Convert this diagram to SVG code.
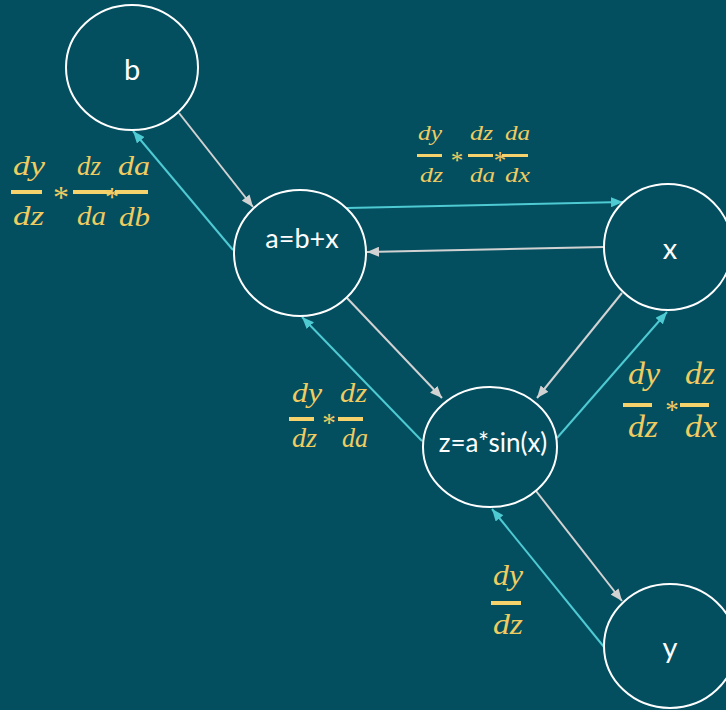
<svg xmlns="http://www.w3.org/2000/svg" width="726" height="710" viewBox="0 0 726 710">
<style>
.node{fill:none;stroke:#ffffff;stroke-width:2}
.lbl{font-family:Lato,"Open Sans",sans-serif;fill:#ffffff;text-anchor:middle}
.fwd{stroke:#d2d2d2;stroke-width:2;fill:none}
.bwd{stroke:#4ecad2;stroke-width:2;fill:none}
.m{font-family:"Liberation Serif",serif;font-style:italic;fill:#f0cc60}
.bar{fill:#f5d26c}
.st{font-family:"Liberation Serif",serif;fill:#f0cc60;text-anchor:middle}
</style>
<defs>
<marker id="ag" viewBox="0 0 12 10" refX="12" refY="5" markerWidth="12" markerHeight="10" markerUnits="userSpaceOnUse" orient="auto"><path d="M0,0 L12,5 L0,10 z" fill="#d2d2d2"/></marker>
<marker id="ac" viewBox="0 0 12 10" refX="12" refY="5" markerWidth="12" markerHeight="10" markerUnits="userSpaceOnUse" orient="auto"><path d="M0,0 L12,5 L0,10 z" fill="#4ecad2"/></marker>
</defs>
<rect width="726" height="710" fill="#034f60"/>
<g id="connectors">
<line class="fwd" x1="179" y1="113" x2="253" y2="207" marker-end="url(#ag)"/>
<line class="bwd" x1="233" y1="250" x2="133" y2="131" marker-end="url(#ac)"/>
<line class="bwd" x1="347" y1="208" x2="623" y2="202" marker-end="url(#ac)"/>
<line class="fwd" x1="604" y1="247" x2="367" y2="252" marker-end="url(#ag)"/>
<line class="fwd" x1="347" y1="298" x2="442" y2="398" marker-end="url(#ag)"/>
<line class="bwd" x1="422" y1="441" x2="302" y2="317" marker-end="url(#ac)"/>
<line class="fwd" x1="622" y1="293" x2="537" y2="398" marker-end="url(#ag)"/>
<line class="bwd" x1="557" y1="438" x2="667" y2="312" marker-end="url(#ac)"/>
<line class="fwd" x1="536" y1="491" x2="622" y2="601" marker-end="url(#ag)"/>
<line class="bwd" x1="604" y1="647" x2="492" y2="509" marker-end="url(#ac)"/>
</g>
<g id="node-b"><ellipse class="node" cx="132" cy="67.5" rx="66" ry="62.5"/><text class="lbl" x="132" y="80" font-size="29">b</text></g>
<g id="node-a"><ellipse class="node" cx="300" cy="253" rx="66" ry="63"/><text class="lbl" x="302" y="248" font-size="27">a=b+x</text></g>
<g id="node-x"><ellipse class="node" cx="668" cy="247" rx="64" ry="63"/><text class="lbl" x="670" y="259" font-size="29">x</text></g>
<g id="node-z"><ellipse class="node" cx="490" cy="447" rx="67" ry="60"/><text class="lbl" x="493" y="452" font-size="26">z=a*sin(x)</text></g>
<g id="node-y"><ellipse class="node" cx="670" cy="646" rx="66" ry="62"/><text class="lbl" x="670" y="658" font-size="29">y</text></g>
<g id="grad-b">
<text class="m" x="13" y="175" font-size="28" textLength="32" lengthAdjust="spacingAndGlyphs">dy</text>
<rect class="bar" x="11" y="190" width="31" height="4"/>
<text class="m" x="13" y="225" font-size="28" textLength="31" lengthAdjust="spacingAndGlyphs">dz</text>
<text class="st" x="61" y="208" font-size="32">*</text>
<text class="m" x="77" y="175" font-size="28" textLength="24" lengthAdjust="spacingAndGlyphs">dz</text>
<rect class="bar" x="73" y="190" width="39" height="4"/>
<text class="m" x="77" y="225" font-size="28" textLength="29" lengthAdjust="spacingAndGlyphs">da</text>
<text class="st" x="112" y="206" font-size="28">*</text>
<text class="m" x="118" y="175" font-size="28" textLength="32" lengthAdjust="spacingAndGlyphs">da</text>
<rect class="bar" x="115" y="190" width="33" height="4"/>
<text class="m" x="119" y="226" font-size="28" textLength="31" lengthAdjust="spacingAndGlyphs">db</text>
</g>
<g id="grad-x-top">
<text class="m" x="418" y="140" font-size="20" textLength="24" lengthAdjust="spacingAndGlyphs">dy</text>
<rect class="bar" x="417" y="154" width="25" height="3"/>
<text class="m" x="420" y="182" font-size="20" textLength="23" lengthAdjust="spacingAndGlyphs">dz</text>
<text class="st" x="457" y="169" font-size="25">*</text>
<text class="m" x="470" y="140" font-size="20" textLength="23" lengthAdjust="spacingAndGlyphs">dz</text>
<rect class="bar" x="468" y="154" width="25" height="3"/>
<text class="m" x="470" y="182" font-size="20" textLength="25" lengthAdjust="spacingAndGlyphs">da</text>
<text class="st" x="500" y="169" font-size="25">*</text>
<text class="m" x="505" y="140" font-size="20" textLength="25" lengthAdjust="spacingAndGlyphs">da</text>
<rect class="bar" x="502" y="154" width="26" height="3"/>
<text class="m" x="505" y="182" font-size="20" textLength="25" lengthAdjust="spacingAndGlyphs">dx</text>
</g>
<g id="grad-a">
<text class="m" x="292" y="402" font-size="28" textLength="30" lengthAdjust="spacingAndGlyphs">dy</text>
<rect class="bar" x="289" y="417" width="25" height="4"/>
<text class="m" x="292" y="447" font-size="28" textLength="25" lengthAdjust="spacingAndGlyphs">dz</text>
<text class="st" x="329" y="432" font-size="27">*</text>
<text class="m" x="340" y="402" font-size="28" textLength="27" lengthAdjust="spacingAndGlyphs">dz</text>
<rect class="bar" x="338" y="417" width="25" height="4"/>
<text class="m" x="342" y="447" font-size="28" textLength="26" lengthAdjust="spacingAndGlyphs">da</text>
</g>
<g id="grad-x">
<text class="m" x="628" y="384" font-size="31" textLength="32" lengthAdjust="spacingAndGlyphs">dy</text>
<rect class="bar" x="623" y="403" width="29" height="4"/>
<text class="m" x="628" y="437" font-size="31" textLength="30" lengthAdjust="spacingAndGlyphs">dz</text>
<text class="st" x="672" y="419" font-size="27">*</text>
<text class="m" x="685" y="384" font-size="31" textLength="30" lengthAdjust="spacingAndGlyphs">dz</text>
<rect class="bar" x="680" y="403" width="29" height="4"/>
<text class="m" x="685" y="437" font-size="31" textLength="32" lengthAdjust="spacingAndGlyphs">dx</text>
</g>
<g id="grad-z">
<text class="m" x="493" y="585" font-size="30" textLength="30" lengthAdjust="spacingAndGlyphs">dy</text>
<rect class="bar" x="491" y="601" width="30" height="4"/>
<text class="m" x="493" y="634" font-size="30" textLength="30" lengthAdjust="spacingAndGlyphs">dz</text>
</g>
</svg>
